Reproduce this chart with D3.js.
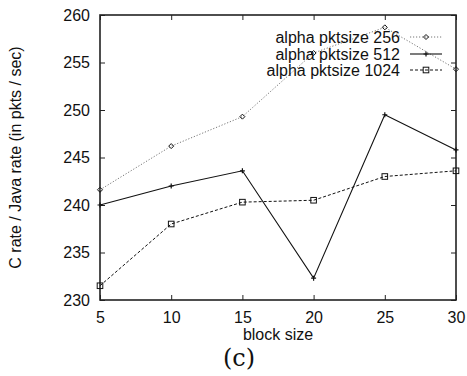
<!DOCTYPE html>
<html>
<head>
<meta charset="utf-8">
<script src="https://cdn.jsdelivr.net/npm/d3@7"></script>
<style>
  body { margin: 0; background: #fff; }
  text { font-family: "Liberation Sans", Arial, sans-serif; fill: #111; }
</style>
</head>
<body>
<svg id="chart" width="467" height="376"></svg>
<script>
// values
const blockSizes = [5, 10, 15, 20, 25, 30];
const rate256 = [241.6, 246.2, 249.3, 256.0, 258.7, 254.3];
const rate512 = [240.0, 242.0, 243.6, 232.3, 249.5, 245.8];
const rate1024 = [231.5, 238.0, 240.3, 240.5, 243.0, 243.6];
const seriesNames = ["alpha pktsize 256", "alpha pktsize 512", "alpha pktsize 1024"];
const yTicks = [230, 235, 240, 245, 250, 255, 260];

const svg = d3.select("#chart");
const plotLeft = 100, plotRight = 456, plotTop = 15, plotBottom = 300;

const x = d3.scaleLinear().domain([5, 30]).range([plotLeft, plotRight]);
const y = d3.scaleLinear().domain([230, 260]).range([plotBottom, plotTop]);

const tickLen = 5;

// ticks on all four sides, pointing inwards (gnuplot style)
svg.append("g")
    .attr("transform", "translate(0," + plotBottom + ")")
    .call(d3.axisBottom(x).tickValues(blockSizes).tickSize(-tickLen).tickPadding(12).tickFormat(d3.format("d")))
    .call(g => g.select(".domain").remove())
    .call(g => g.selectAll("text").attr("font-size", 16));

svg.append("g")
    .attr("transform", "translate(0," + plotTop + ")")
    .call(d3.axisTop(x).tickValues(blockSizes).tickSize(-tickLen).tickFormat(""))
    .call(g => g.select(".domain").remove());

svg.append("g")
    .attr("transform", "translate(" + plotLeft + ",0)")
    .call(d3.axisLeft(y).tickValues(yTicks).tickSize(-tickLen).tickPadding(10).tickFormat(d3.format("d")))
    .call(g => g.select(".domain").remove())
    .call(g => g.selectAll("text").attr("font-size", 16));

svg.append("g")
    .attr("transform", "translate(" + plotRight + ",0)")
    .call(d3.axisRight(y).tickValues(yTicks).tickSize(-tickLen).tickFormat(""))
    .call(g => g.select(".domain").remove());

svg.selectAll(".tick line").attr("stroke", "#222");

// frame
svg.append("rect")
    .attr("x", plotLeft).attr("y", plotTop)
    .attr("width", plotRight - plotLeft).attr("height", plotBottom - plotTop)
    .attr("fill", "none").attr("stroke", "#222").attr("stroke-width", 1.6);

const styles = [
    { data: rate256, stroke: "#777", dash: "1.2,1.8", width: 1, marker: "diamond" },
    { data: rate512, stroke: "#111", dash: null, width: 1.1, marker: "plus" },
    { data: rate1024, stroke: "#111", dash: "3,2", width: 1, marker: "square" }
];

const line = d3.line()
    .x((d, i) => x(blockSizes[i]))
    .y(d => y(d));

function drawMarker(g, kind, cx, cy) {
    if (kind === "diamond") {
        g.append("path")
            .attr("d", "M" + cx + "," + (cy - 2.5) + "L" + (cx + 2.5) + "," + cy + "L" + cx + "," + (cy + 2.5) + "L" + (cx - 2.5) + "," + cy + "Z")
            .attr("fill", "none").attr("stroke", "#111").attr("stroke-width", 1);
    } else if (kind === "plus") {
        g.append("path")
            .attr("d", "M" + (cx - 2.5) + "," + cy + "H" + (cx + 2.5) + "M" + cx + "," + (cy - 2.5) + "V" + (cy + 2.5))
            .attr("stroke", "#111").attr("stroke-width", 1.2);
    } else {
        g.append("rect")
            .attr("x", cx - 2.8).attr("y", cy - 2.8).attr("width", 5.6).attr("height", 5.6)
            .attr("fill", "none").attr("stroke", "#111").attr("stroke-width", 1);
    }
}

styles.forEach(s => {
    const g = svg.append("g");
    g.append("path")
        .datum(s.data)
        .attr("d", line)
        .attr("fill", "none")
        .attr("stroke", s.stroke)
        .attr("stroke-width", s.width)
        .attr("stroke-dasharray", s.dash);
    s.data.forEach((v, i) => drawMarker(g, s.marker, x(blockSizes[i]), y(v)));
});

// legend
const legend = svg.append("g");
const rowY = [37, 54, 70];
seriesNames.forEach((name, i) => {
    const s = styles[i];
    legend.append("text")
        .attr("x", 400).attr("y", rowY[i])
        .attr("dy", "0.35em")
        .attr("text-anchor", "end")
        .attr("font-size", 16)
        .text(name);
    legend.append("line")
        .attr("x1", 410).attr("x2", 442)
        .attr("y1", rowY[i]).attr("y2", rowY[i])
        .attr("stroke", s.stroke).attr("stroke-width", s.width)
        .attr("stroke-dasharray", s.dash);
    drawMarker(legend, s.marker, 426, rowY[i]);
});

// axis titles
svg.append("text")
    .attr("x", (plotLeft + plotRight) / 2).attr("y", 340)
    .attr("text-anchor", "middle")
    .attr("font-size", 16)
    .text("block size");

svg.append("text")
    .attr("transform", "translate(21," + (plotTop + plotBottom) / 2 + ") rotate(-90)")
    .attr("text-anchor", "middle")
    .attr("font-size", 16)
    .text("C rate / Java rate (in pkts / sec)");

svg.append("text")
    .attr("x", 239).attr("y", 366)
    .attr("text-anchor", "middle")
    .style("font-family", "'DejaVu Serif', serif")
    .attr("font-size", 24)
    .text("(c)");
</script>
</body>
</html>
